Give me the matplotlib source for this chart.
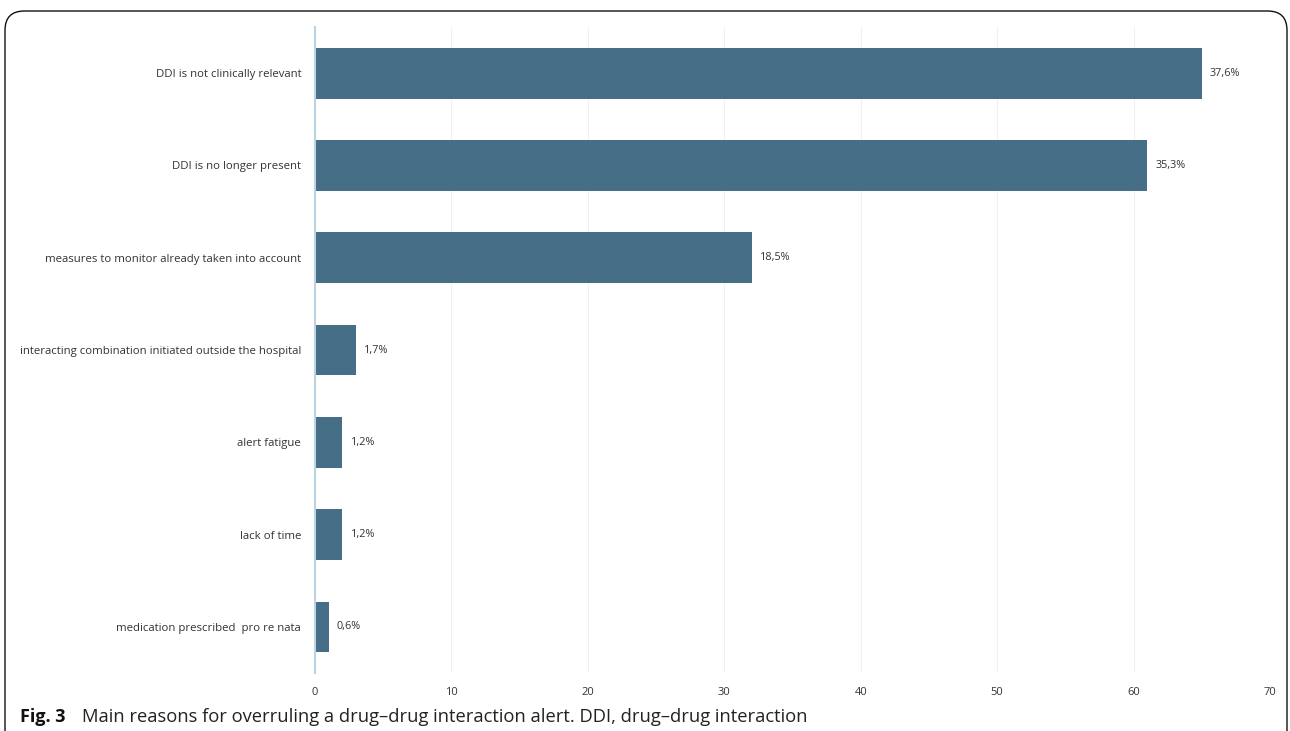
import matplotlib.pyplot as plt
from matplotlib.patches import FancyBboxPatch

reasons = [
    "DDI is not clinically relevant",
    "DDI is no longer present",
    "measures to monitor already taken into account",
    "interacting combination initiated outside the hospital",
    "alert fatigue",
    "lack of time",
    "medication prescribed  pro re nata",
]
counts = [65, 61, 32, 3, 2, 2, 1]
pct_labels = ["37,6%", "35,3%", "18,5%", "1,7%", "1,2%", "1,2%", "0,6%"]
xticks = [0, 10, 20, 30, 40, 50, 60, 70]

plt.rcParams["font.family"] = ["Open Sans", "DejaVu Sans"]

fig = plt.figure(figsize=(12.9, 7.31), dpi=100)
ax = fig.add_axes([0.2442, 0.0793, 0.7403, 0.8837])

pos = list(range(len(reasons)))
ax.barh(pos, counts, height=0.55, color="#476e87", zorder=3)
for p, c, lab in zip(pos, counts, pct_labels):
    ax.text(c + 0.6, p, lab, va="center", ha="left", fontsize=7.8, color="#333333")

ax.set_ylim(len(reasons) - 0.5, -0.5)
ax.set_xlim(0, 70)
ax.set_xticks(xticks)
ax.set_yticks(pos)
ax.set_yticklabels(reasons, fontsize=8.2, color="#333333")
ax.tick_params(axis="x", labelsize=8, colors="#333333", length=0, pad=10)
ax.tick_params(axis="y", length=0, pad=10)
ax.grid(axis="x", color="#eef1f3", linewidth=0.8, zorder=0)
for s in ["top", "right", "bottom"]:
    ax.spines[s].set_visible(False)
ax.spines["left"].set_color("#bcd3e4")
ax.spines["left"].set_linewidth(1.5)
ax.spines["left"].set_zorder(4)

# caption
fig.text(0.0155, 0.012, "Fig. 3", fontsize=13, fontweight="bold", color="#111111")
fig.text(0.0635, 0.012, "Main reasons for overruling a drug\u2013drug interaction alert. DDI, drug\u2013drug interaction",
         fontsize=13.2, color="#222222")

# rounded frame
frame = FancyBboxPatch((5 / 1290, -0.05), 1287 / 1290 - 5 / 1290, 1.05 - 11 / 731,
                       boxstyle="round,pad=0,rounding_size=0.015",
                       transform=fig.transFigure, fill=False, edgecolor="#111111",
                       linewidth=1.0, mutation_aspect=1290 / 731)
fig.patches.append(frame)

fig.savefig("out.png", dpi=100)
